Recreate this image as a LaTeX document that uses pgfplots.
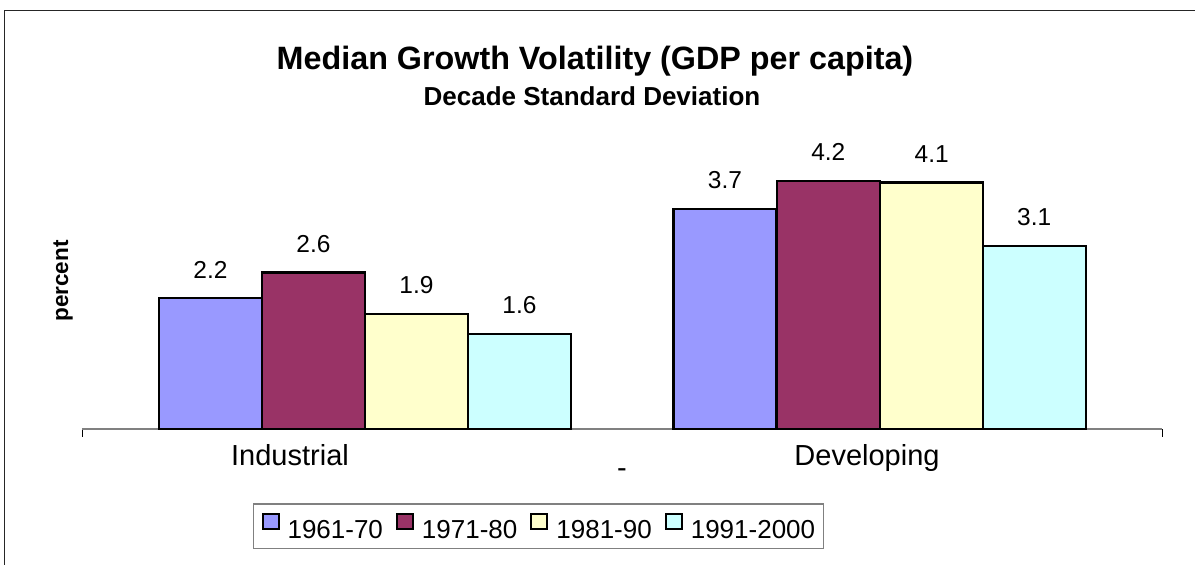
\documentclass[border=0pt]{standalone}
\usepackage{fontspec}
\setmainfont{Liberation Sans}
\usepackage{pgfplots}
\pgfplotsset{compat=1.18}
\definecolor{cA}{HTML}{9999FF}
\definecolor{cB}{HTML}{993366}
\definecolor{cC}{HTML}{FFFFCC}
\definecolor{cD}{HTML}{CCFFFF}
\definecolor{axgray}{HTML}{808080}
\begin{document}
\begin{tikzpicture}[x=1pt,y=1pt]
\useasboundingbox (0pt,0pt) rectangle (1195pt,565pt);
\clip (0pt,0pt) rectangle (1195pt,565pt);
\draw[line width=1.6pt, black!85] (4.5pt,-20pt) -- (4.5pt,554.5pt) -- (1220pt,554.5pt);
\node[font=\bfseries\fontsize{32.3}{38}\selectfont, anchor=base] at (595pt,495pt) {Median Growth Volatility (GDP per capita)};
\node[font=\bfseries\fontsize{26}{31}\selectfont, anchor=base] at (592pt,459pt) {Decade Standard Deviation};
\node[rotate=90, anchor=base, font=\bfseries\fontsize{22.5}{26}\selectfont] at (68pt,284pt) {percent};
\begin{axis}[
  at={(82pt,136pt)}, anchor=origin,
  scale only axis, width=1080pt, height=268.65pt,
  xmin=0, xmax=1080, ymin=0, ymax=4.5,
  hide y axis,
  axis x line*=bottom,
  x axis line style={axgray, line width=1.5pt},
  xtick={208,785}, xticklabels={Industrial,Developing},
  extra x ticks={540}, extra x tick labels={-},
  extra x tick style={xticklabel style={yshift=-24pt}},
  minor xtick={0,1080},
  major tick length=0pt, minor tick length=8pt, tick align=outside,
  minor tick style={black, line width=0.9pt},
  xticklabel style={font=\fontsize{29}{34}\selectfont, inner sep=0pt, yshift=-15pt},
  ybar, bar width=103,
  /pgf/number format/assume math mode=true,
  nodes near coords={\pgfmathprintnumber[fixed,precision=1,fixed zerofill]{\pgfplotspointmeta}},
  nodes near coords style={font=\fontsize{24.5}{29}\selectfont, anchor=south, inner sep=0pt, yshift=19pt, text=black},
  legend columns=4,
  legend image code/.code={\draw[#1, line width=2pt] (0pt,1.5pt) rectangle (16pt,16.5pt);},
  legend style={at={(0.1583,-0.277)}, anchor=north west, draw=axgray, line width=1.2pt,
    font=\fontsize{26}{30}\selectfont, inner xsep=8pt, inner ysep=8.5pt,
    nodes={inner sep=0pt},
    /tikz/every odd column/.append style={column sep=8pt},
    /tikz/every even column/.append style={column sep=13pt}},
  clip=false,
]
\addplot[fill=cA, draw=black, line width=2.2pt, bar shift=0pt] coordinates {(128.5,2.19) (643,3.68)};
\addplot[fill=cB, draw=black, line width=2.2pt, bar shift=0pt] coordinates {(231.5,2.62) (746.3,4.16)};
\addplot[fill=cC, draw=black, line width=2.2pt, bar shift=0pt] coordinates {(334.5,1.93) (849.7,4.13)};
\addplot[fill=cD, draw=black, line width=2.2pt, bar shift=0pt] coordinates {(437.5,1.59) (952.2,3.07)};
\legend{1961-70,1971-80,1981-90,1991-2000}
\end{axis}
\end{tikzpicture}
\end{document}
